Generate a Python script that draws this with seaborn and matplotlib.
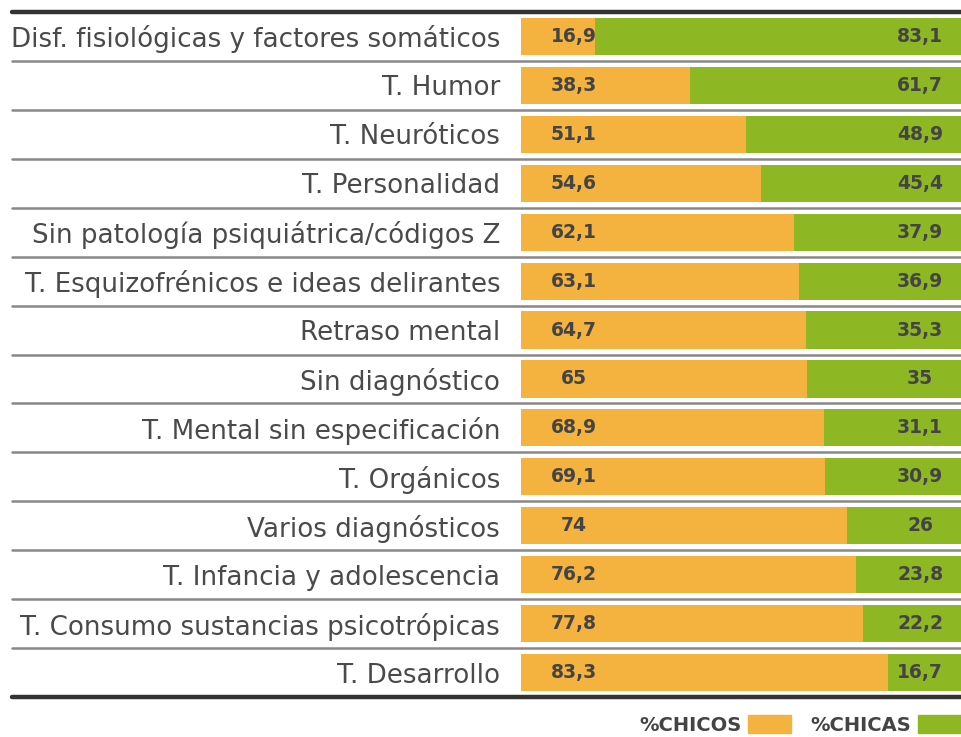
import matplotlib
matplotlib.use("Agg")
import matplotlib.pyplot as plt
import seaborn as sns
import pandas as pd
import numpy as np
from matplotlib.patches import Patch

categorias = [
    "Disf. fisiológicas y factores somáticos",
    "T. Humor",
    "T. Neuróticos",
    "T. Personalidad",
    "Sin patología psiquiátrica/códigos Z",
    "T. Esquizofrénicos e ideas delirantes",
    "Retraso mental",
    "Sin diagnóstico",
    "T. Mental sin especificación",
    "T. Orgánicos",
    "Varios diagnósticos",
    "T. Infancia y adolescencia",
    "T. Consumo sustancias psicotrópicas",
    "T. Desarrollo",
]
chicos = [16.9, 38.3, 51.1, 54.6, 62.1, 63.1, 64.7, 65, 68.9, 69.1, 74, 76.2, 77.8, 83.3]
chicas = [83.1, 61.7, 48.9, 45.4, 37.9, 36.9, 35.3, 35, 31.1, 30.9, 26, 23.8, 22.2, 16.7]

NARANJA = "#F4B23E"
VERDE = "#8DB823"
GRIS_TXT = "#444444"

sns.set_style("white")
plt.rcParams['font.family'] = ['DejaVu Sans']

df = pd.DataFrame({"cat": categorias, "chicos": chicos, "chicas": chicas})
df["total"] = df["chicos"] + df["chicas"]

W, H = 961, 737
fig = plt.figure(figsize=(W / 100, H / 100), dpi=100)
ax = fig.add_axes([521 / W, 1 - 697 / H, 440 / W, 685 / H])

sns.barplot(data=df, x="total", y="cat", color=VERDE, width=0.76,
            saturation=1, ax=ax, orient="h", linewidth=0)
sns.barplot(data=df, x="chicos", y="cat", color=NARANJA, width=0.76,
            saturation=1, ax=ax, orient="h", linewidth=0)

ax.set_xlim(0, 100)
ax.set_ylim(len(categorias) - 0.5, -0.5)
ax.set_xlabel("")
ax.set_ylabel("")
ax.set_xticks([])
ax.tick_params(axis="y", length=0, pad=15, labelsize=18.8, labelcolor="#4a4a4a")
for s in ax.spines.values():
    s.set_visible(False)


def fmt(v):
    return f"{v:g}".replace(".", ",")


for i, (a, b) in enumerate(zip(chicos, chicas)):
    ax.text(12, i, fmt(a), ha="center", va="center", fontsize=13.5,
            fontweight="bold", color=GRIS_TXT)
    ax.text(90.7, i, fmt(b), ha="center", va="center", fontsize=13.5,
            fontweight="bold", color=GRIS_TXT)

# lineas separadoras sobre todo el ancho
x0 = (12 - 521) / 440
for k in range(1, len(categorias)):
    ax.axhline(k - 0.5, xmin=x0, xmax=1, color="#888888", lw=1.8,
               clip_on=False, zorder=0)
ax.axhline(-0.5, xmin=x0, xmax=1, color="#333333", lw=3.2, clip_on=False)
ax.axhline(len(categorias) - 0.5, xmin=x0, xmax=1, color="#333333", lw=3.2,
           clip_on=False)

handles = [Patch(color=NARANJA, label="%CHICOS"), Patch(color=VERDE, label="%CHICAS")]
fig.legend(handles=handles, loc="center right", bbox_to_anchor=(1.0, 1 - 725 / H),
           ncol=2, frameon=False, markerfirst=False, borderpad=0, borderaxespad=0,
           handlelength=2.2, handleheight=1.0, handletextpad=0.35,
           columnspacing=1.0, prop={"size": 14, "weight": "bold"},
           labelcolor=GRIS_TXT)

fig.savefig("out.png", dpi=100)
